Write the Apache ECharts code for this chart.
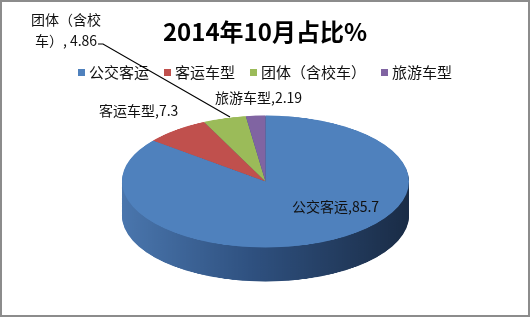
<!DOCTYPE html>
<html><head><meta charset="utf-8">
<script src="https://cdn.jsdelivr.net/npm/echarts@6/dist/echarts.min.js"></script>
<style>
html,body{margin:0;padding:0;background:#fff;}
#wrap{position:relative;width:530px;height:317px;overflow:hidden;background:#fff;}
#pie{position:absolute;left:0;top:0;width:530px;height:690px;transform:scaleY(0.46);transform-origin:0 0;}
#ov{position:absolute;left:0;top:0;width:530px;height:317px;}
#frame{position:absolute;left:0;top:0;width:530px;height:317px;box-sizing:border-box;border:2px solid #8c8c8c;pointer-events:none;}
</style></head>
<body><div id="wrap"><div id="pie"></div><div id="ov"></div><div id="frame"></div></div>
<script>
const titleText = '2014年10月占比%';
const categories = ['公交客运', '客运车型', '团体（含校车）', '旅游车型'];
const values = [85.7, 7.3, 4.86, 2.19];
const labelNames = ['公交客运', '客运车型', '团体（含校\n车）', '旅游车型'];
const colors = ['#4F81BD', '#C0504D', '#9BBB59', '#8064A2'];

const FONT = '"Noto Sans CJK SC", "Noto Sans", sans-serif';
const S = 0.46;          // vertical squash of the pie
const CX = 265.5, CY = 181.5, R = 143.5, DEPTH = 34;
const cyU = CY / S, depthU = DEPTH / S;
const total = values.reduce((a, b) => a + b, 0);

// ---- pie (squashed) ----
const pieChart = echarts.init(document.getElementById('pie'), null, {renderer: 'canvas'});
const sideGrad = {type: 'linear', x: 0, y: 0, x2: 1, y2: 0,
  colorStops: [{offset: 0, color: '#4a76ad'}, {offset: 0.45, color: '#2f5180'}, {offset: 1, color: '#1a2c46'}]};
const pieSeries = [];
const steps = 40;
for (let k = steps; k >= 1; k--) {
  pieSeries.push({
    type: 'pie', silent: true, animation: false, z: 1,
    center: [CX, cyU + depthU * k / steps], radius: [0, R],
    startAngle: 90, clockwise: true,
    label: {show: false}, labelLine: {show: false},
    itemStyle: {color: sideGrad, borderWidth: 0},
    data: [{name: 'side', value: total}]
  });
}
pieSeries.push({
  type: 'pie', silent: true, animation: false, z: 2,
  center: [CX, cyU], radius: [0, R],
  startAngle: 90, clockwise: true,
  label: {show: false}, labelLine: {show: false},
  itemStyle: {borderWidth: 0},
  data: categories.map((c, i) => ({name: c, value: values[i], itemStyle: {color: colors[i]}}))
});
pieChart.setOption({animation: false, series: pieSeries});

// ---- overlay: title, legend, labels ----
const ov = echarts.init(document.getElementById('ov'), null, {renderer: 'canvas'});
const labelPos = [
  {x: 292, y: 207, align: 'left'},
  {x: 99, y: 111, align: 'left'},
  {x: 66, y: 30, align: 'center'},
  {x: 215, y: 98, align: 'left'}
];
const sep = [',', ',', ', ', ','];
const graphics = labelPos.map((p, i) => ({
  type: 'text', x: p.x, y: p.y, z: 10,
  style: {text: labelNames[i] + sep[i] + values[i], fill: '#111', font: '14px ' + FONT,
    textAlign: p.align, textVerticalAlign: 'middle', lineHeight: 21}
}));
graphics.push({
  type: 'polyline', z: 9,
  shape: {points: [[98, 44], [103, 44], [230, 117]]},
  style: {stroke: '#000', lineWidth: 1.2, fill: null}
});
ov.setOption({
  animation: false,
  title: {text: titleText, left: 'center', top: 15,
    textStyle: {fontSize: 24, fontWeight: 'bold', color: '#000', fontFamily: FONT}},
  legend: {top: 60, left: 'center', icon: 'rect', itemWidth: 7, itemHeight: 7, itemGap: 15,
    data: categories, selectedMode: false,
    textStyle: {fontSize: 15, color: '#111', fontFamily: FONT, padding: [0, 0, 0, -1]}},
  graphic: graphics,
  series: [{
    type: 'pie', silent: true, center: [-50, -50], radius: [0, 1],
    label: {show: false}, labelLine: {show: false},
    data: categories.map((c, i) => ({name: c, value: values[i], itemStyle: {color: colors[i]}}))
  }]
});
</script>
</body></html>
